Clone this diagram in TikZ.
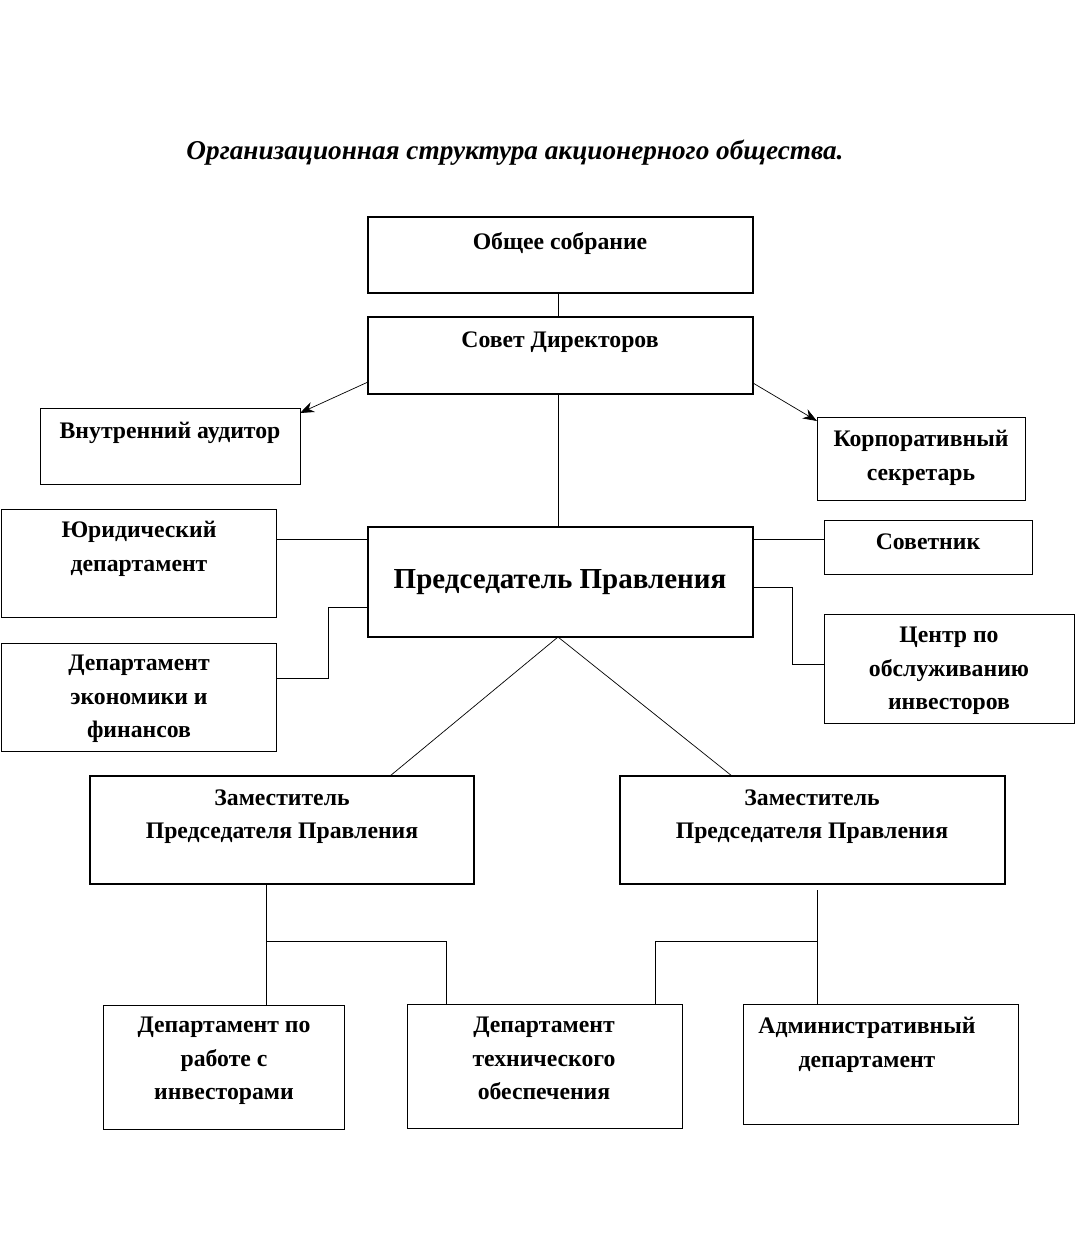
\documentclass[tikz,border=0pt]{standalone}
\usepackage{fontspec}
\setmainfont{Liberation Serif}
\usetikzlibrary{arrows.meta, positioning}
\begin{document}
\begin{tikzpicture}[x=0.02cm, y=-0.02cm, >={Stealth[length=8pt]}]

    % styles for boxes and texts
    \tikzset{box/.style={draw, thin, rectangle, inner sep=0pt}}
    \tikzset{mainbox/.style={draw, line width=1.6pt, rectangle, inner sep=0pt}}
    \tikzset{txt/.style={anchor=north, align=center, inner sep=0pt,
        font=\bfseries\fontsize{13.5}{19}\selectfont}}
    \tikzset{link/.style={thin, black}}

    \useasboundingbox (0,0) rectangle (1075,1248);

    \node (title) [anchor=center, font=\bfseries\itshape\fontsize{15.5}{19}\selectfont] at (515,153) {Организационная структура акционерного общества.};

    \draw[mainbox] (368,217) rectangle (753,293) node (meet) [pos=0.5] {};
    \node (meettxt) [txt] at (560,232) {Общее собрание};
    \draw[mainbox] (368,317) rectangle (753,394) node (board) [pos=0.5] {};
    \node (boardtxt) [txt] at (560,331) {Совет Директоров};
    \draw[box] (40,408) rectangle (300,484) node (audit) [pos=0.5] {};
    \node (audittxt) [txt] at (170,422) {Внутренний аудитор};
    \draw[box] (817,417) rectangle (1025,500) node (secr) [pos=0.5] {};
    \node (secrtxt) [txt] at (921,430) {Корпоративный\\секретарь};
    \draw[mainbox] (368,527) rectangle (753,637) node (chair) [pos=0.5] {};
    \node (chairtxt) [txt, anchor=center, font=\bfseries\fontsize{16.5}{20}\selectfont] at (560,582) {Председатель Правления};
    \draw[box] (1,509) rectangle (276,617) node (legal) [pos=0.5] {};
    \node (legaltxt) [txt] at (139,521) {Юридический\\департамент};
    \draw[box] (1,643) rectangle (276,751) node (econ) [pos=0.5] {};
    \node (econtxt) [txt] at (139,655) {Департамент\\экономики и\\финансов};
    \draw[box] (824,520) rectangle (1032,574) node (advisor) [pos=0.5] {};
    \node (advisortxt) [txt] at (928,533) {Советник};
    \draw[box] (824,614) rectangle (1074,723) node (center) [pos=0.5] {};
    \node (centertxt) [txt] at (949,627) {Центр по\\обслуживанию\\инвесторов};
    \draw[mainbox] (90,776) rectangle (474,884) node (depL) [pos=0.5] {};
    \node (depLtxt) [txt] at (282,789) {Заместитель\\Председателя Правления};
    \draw[mainbox] (620,776) rectangle (1005,884) node (depR) [pos=0.5] {};
    \node (depRtxt) [txt] at (812,789) {Заместитель\\Председателя Правления};
    \draw[box] (103,1005) rectangle (344,1129) node (inv) [pos=0.5] {};
    \node (invtxt) [txt] at (224,1017) {Департамент по\\работе с\\инвесторами};
    \draw[box] (407,1004) rectangle (682,1128) node (tech) [pos=0.5] {};
    \node (techtxt) [txt] at (544,1017) {Департамент\\технического\\обеспечения};
    \draw[box] (743,1004) rectangle (1018,1124) node (admin) [pos=0.5] {};
    \node (admintxt) [txt] at (867,1017) {Административный\\департамент};

    \coordinate (jL) at (266,941);
    \coordinate (jR) at (817,941);

    \draw[link] (558,293) -- (558,317);
    \draw[link, ->] (368,382) -- (300,413);
    \draw[link, ->] (753,383) -- (817,421);
    \draw[link] (558,394) -- (558,527);
    \draw[link] (276,539) -- (368,539);
    \draw[link] (753,539) -- (824,539);
    \draw[link] (276,678) -- (328,678) -- (328,607) -- (368,607);
    \draw[link] (753,587) -- (792,587) -- (792,664) -- (824,664);
    \draw[link] (558,637) -- (390,776);
    \draw[link] (558,637) -- (732,776);
    \draw[link] (266,884) -- (266,1005);
    \draw[link] (jL) -- (446,941) -- (446,1004);
    \draw[link] (817,890) -- (817,1004);
    \draw[link] (jR) -- (655,941) -- (655,1004);

\end{tikzpicture}
\end{document}
